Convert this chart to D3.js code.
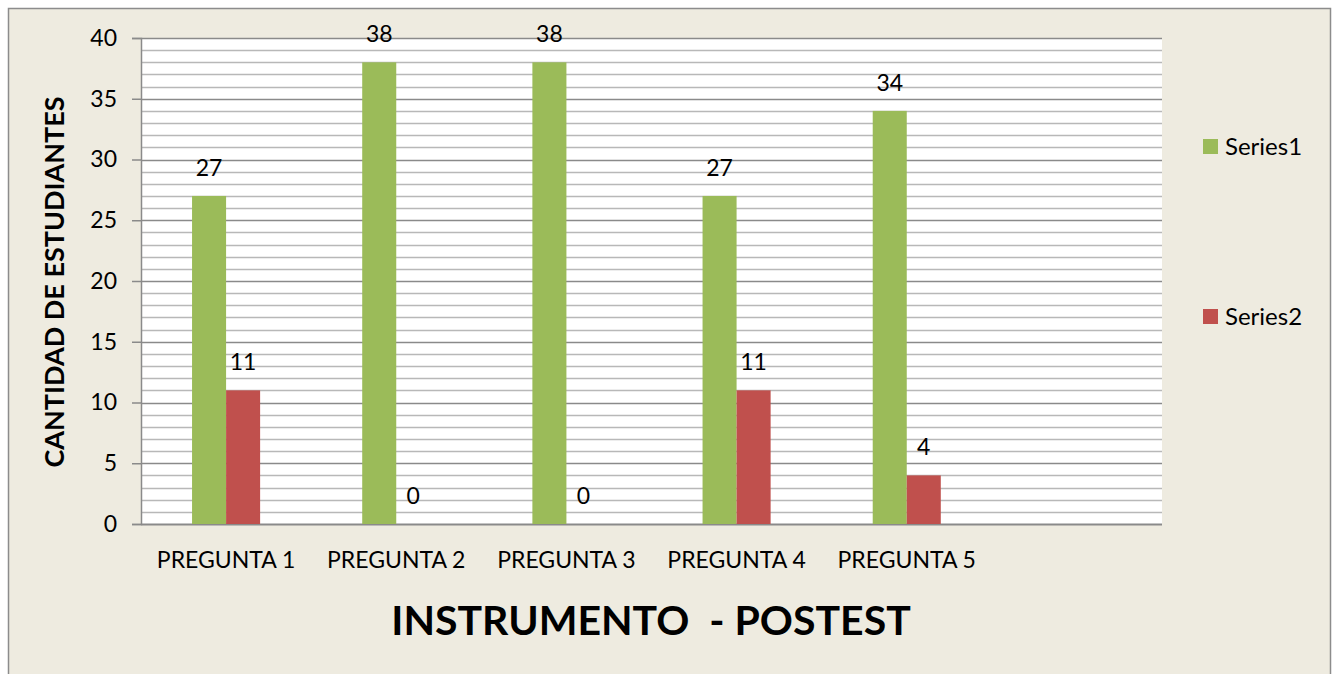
<!DOCTYPE html>
<html>
<head>
<meta charset="utf-8">
<script src="https://cdn.jsdelivr.net/npm/d3@7"></script>
<style>
  body { margin: 0; background: #fff; }
  text { font-family: Lato, "Open Sans", sans-serif; fill: #000; }
</style>
</head>
<body>
<div id="chart"></div>
<script>
// chart data
var categories = ["PREGUNTA 1", "PREGUNTA 2", "PREGUNTA 3", "PREGUNTA 4", "PREGUNTA 5", ""];
var series1 = [27, 38, 38, 27, 34];
var series2 = [11, 0, 0, 11, 4];
var seriesNames = ["Series1", "Series2"];
var seriesColors = ["#9BBB59", "#C0504D"];
var yTicks = [0, 5, 10, 15, 20, 25, 30, 35, 40];

var W = 1336, H = 674;
var margin = {top: 38, right: 174, bottom: 150, left: 141},
    width = W - margin.left - margin.right,
    height = H - margin.top - margin.bottom;

var svg = d3.select("#chart").append("svg")
    .attr("width", W)
    .attr("height", H);

// frame
svg.append("rect")
    .attr("x", 8.5).attr("y", 8.5)
    .attr("width", 1322).attr("height", 680)
    .attr("fill", "#EEEBE0")
    .attr("stroke", "#8c8c8c")
    .attr("stroke-width", 1.5);

var g = svg.append("g")
    .attr("transform", "translate(" + margin.left + "," + margin.top + ")");

var x = d3.scaleBand().domain(d3.range(categories.length)).range([0, width]);
var y = d3.scaleLinear().domain([0, 40]).range([height, 0]);

// plot area
g.append("rect")
    .attr("width", width).attr("height", height)
    .attr("fill", "#fff");

// gridlines: minor every 1, major every 5
var grid = d3.range(1, 41);
g.selectAll("line.grid")
    .data(grid)
  .enter().append("line")
    .attr("class", "grid")
    .attr("x1", 0).attr("x2", width)
    .attr("y1", function(d) { return Math.round(y(d)) + 0.5; })
    .attr("y2", function(d) { return Math.round(y(d)) + 0.5; })
    .attr("stroke", function(d) { return d % 5 === 0 ? "#8a8a8a" : "#b8b8b8"; })
    .attr("stroke-width", 1.5);

// y axis
var yAxis = g.append("g")
    .call(d3.axisLeft(y).tickValues(yTicks).tickSize(9).tickPadding(15));
yAxis.select(".domain").attr("stroke", "#8a8a8a").attr("stroke-width", 1.5);
yAxis.selectAll(".tick line").attr("stroke", "#8a8a8a").attr("stroke-width", 1.5);
yAxis.selectAll(".tick text")
    .style("font-size", "23px")
    .style("font-family", "Lato, 'Open Sans', sans-serif")
    .attr("fill", "#000");

// x baseline
g.append("line")
    .attr("x1", 0).attr("x2", width)
    .attr("y1", height + 0.5).attr("y2", height + 0.5)
    .attr("stroke", "#8a8a8a").attr("stroke-width", 2);

// bars
var barW = x.bandwidth() * 0.2;
var data = series1.map(function(v, i) { return [v, series2[i]]; });

var groups = g.selectAll("g.cat")
    .data(data)
  .enter().append("g")
    .attr("class", "cat")
    .attr("transform", function(d, i) {
        return "translate(" + (x(i) + x.bandwidth() / 2 - barW) + ",0)";
    });

groups.selectAll("rect")
    .data(function(d) { return d; })
  .enter().append("rect")
    .attr("x", function(d, j) { return j * barW; })
    .attr("y", function(d) { return y(d); })
    .attr("width", barW)
    .attr("height", function(d) { return height - y(d); })
    .attr("fill", function(d, j) { return seriesColors[j]; });

groups.selectAll("text")
    .data(function(d) { return d; })
  .enter().append("text")
    .attr("x", function(d, j) { return j * barW + barW / 2; })
    .attr("y", function(d) { return y(d) - 20; })
    .attr("text-anchor", "middle")
    .style("font-size", "23px")
    .text(function(d) { return d; });

// category labels
g.selectAll("text.cat")
    .data(categories)
  .enter().append("text")
    .attr("class", "cat")
    .attr("x", function(d, i) { return x(i) + x.bandwidth() / 2; })
    .attr("y", height + 44)
    .attr("text-anchor", "middle")
    .style("font-size", "23px")
    .text(function(d) { return d; });

// axis titles
svg.append("text")
    .attr("x", 651).attr("y", 635)
    .attr("text-anchor", "middle")
    .style("font-size", "41px")
    .style("font-weight", "bold")
    .attr("xml:space", "preserve")
    .text("INSTRUMENTO  - POSTEST");

svg.append("text")
    .attr("transform", "translate(64,282) rotate(-90)")
    .attr("text-anchor", "middle")
    .style("font-size", "27px")
    .style("font-weight", "bold")
    .text("CANTIDAD DE ESTUDIANTES");

// legend
var legend = svg.selectAll("g.legend")
    .data(seriesNames)
  .enter().append("g")
    .attr("class", "legend")
    .attr("transform", function(d, i) { return "translate(1203," + (139 + i * 170) + ")"; });

legend.append("rect")
    .attr("width", 15).attr("height", 15)
    .attr("fill", function(d, i) { return seriesColors[i]; });

legend.append("text")
    .attr("x", 22).attr("y", 16)
    .style("font-size", "24px")
    .text(function(d) { return d; });
</script>
</body>
</html>
